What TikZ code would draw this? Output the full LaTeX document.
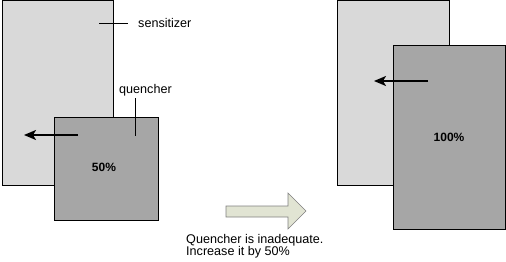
\documentclass[tikz,border=0pt]{standalone}
\usepackage{fontspec}
\setmainfont{Liberation Sans}
\usetikzlibrary{arrows.meta}
\definecolor{sens}{HTML}{D9D9D9}
\definecolor{quen}{HTML}{A6A6A6}
\definecolor{barrow}{HTML}{E1E4D3}
\definecolor{barrowline}{HTML}{808080}
\begin{document}
\begin{tikzpicture}[x=1pt,y=-1pt,
  sensbox/.style={draw=black,fill=sens,line width=0.8pt},
  quenbox/.style={draw=black,fill=quen,line width=0.8pt},
  lbl/.style={font=\fontsize{12.6}{12}\selectfont,inner sep=0pt,anchor=west},
  pct/.style={font=\fontsize{12}{12}\selectfont\bfseries,inner sep=0pt},
  lead/.style={draw=black,line width=0.6pt},
  push/.style={draw=black,line width=1.8pt,-{Stealth[length=12pt,width=10pt,inset=3pt]}}]
\useasboundingbox (0,0) rectangle (506,262);
% left pair
\node[sensbox,minimum width=111pt,minimum height=184pt,inner sep=0pt,anchor=north west] (s1) at (2,0.5) {};
\node[quenbox,minimum width=104pt,minimum height=103pt,inner sep=0pt,anchor=north west] (q1) at (54,117) {};
\node[pct] (p1) at (104,167) {50\%};
\node[lbl] (ls) at (138,23) {sensitizer};
\coordinate (ls0) at (99,23);
\coordinate (ls1) at (128,23);
\draw[lead] (ls0) -- (ls1);
\node[lbl] (lq) at (119,90) {quencher};
\coordinate (lq1) at (135,136);
\coordinate (lq0) at (135,98);
\draw[lead] (lq0) -- (lq1);
\coordinate (a1s) at (78,135);
\coordinate (a1e) at (24,135);
\draw[push] (a1s) -- (a1e);
% right pair
\node[sensbox,minimum width=112pt,minimum height=184pt,inner sep=0pt,anchor=north west] (s2) at (337,0.5) {};
\node[quenbox,minimum width=112pt,minimum height=184pt,inner sep=0pt,anchor=north west] (q2) at (393,45) {};
\node[pct] (p2) at (449,137) {100\%};
\coordinate (a2s) at (428,81);
\coordinate (a2e) at (374,81);
\draw[push] (a2s) -- (a2e);
% block arrow
\draw[draw=barrowline,fill=barrow,line width=0.6pt]
  (226,206) -- (288,206) -- (288,193) -- (306,211) -- (288,229) -- (288,217) -- (226,217) -- cycle;
\node[lbl,align=left,anchor=north west] (txt) at (186,234) {Quencher is inadequate.\\Increase it by 50\%};
\end{tikzpicture}
\end{document}
